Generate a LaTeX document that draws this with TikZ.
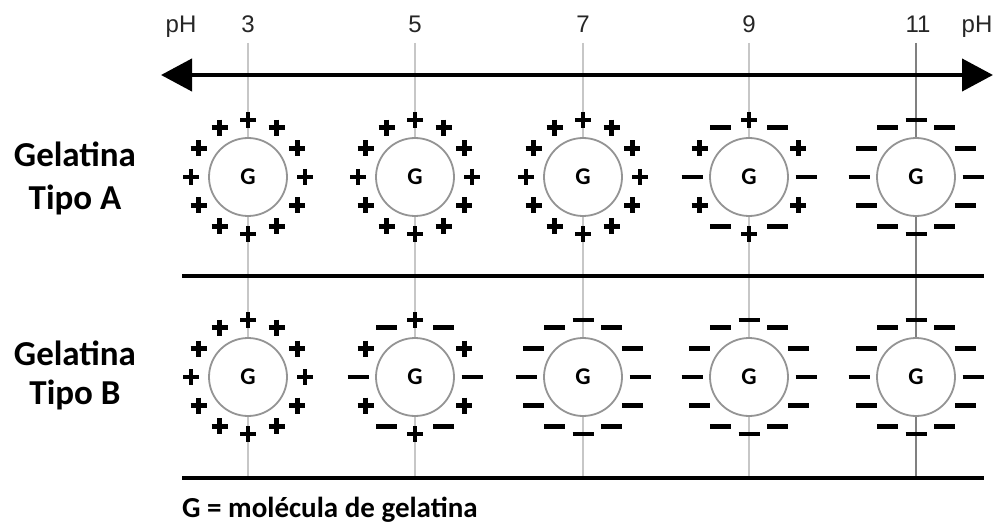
\documentclass[tikz,border=0pt]{standalone}
\usepackage{fontspec}
\setmainfont{Carlito}
\newfontfamily\axisfont{Liberation Sans}
\usetikzlibrary{arrows.meta}
\tikzset{
  mol/.style={circle, draw=black!42, line width=1.8pt, fill=white, minimum size=78pt, inner sep=0pt, font=\fontsize{24}{24}\selectfont\bfseries},
  axlab/.style={font=\axisfont\fontsize{24}{24}\selectfont, text=black!85, anchor=base, inner sep=0pt},
  rowlab/.style={font=\fontsize{35}{35}\selectfont\bfseries, anchor=base, inner sep=0pt},
  gridline/.style={draw=black!22, line width=2pt},
  gridlinedark/.style={draw=black!50, line width=2.6pt},
  chg/.style={line width=4.6pt, line cap=butt, draw=black},
  sepline/.style={line width=3.8pt, draw=black},
  pplus/.pic={\draw[chg] (-8,0)--(8,0) (0,-8)--(0,8);},
  pminus/.pic={\draw[chg] (-10.5,0)--(10.5,0);}
}
% #1 name, #2 x, #3 y, #4 type: 0 all plus, 1 all minus, 2 alternating
\newcommand\molecule[4]{%
  \node[mol] (#1) at (#2,#3) {G};
  \foreach \k in {0,...,11}{%
    \pgfmathtruncatemacro\sgn{#4==0 ? 1 : (#4==1 ? 0 : mod(\k,2))}%
    \ifnum\sgn=1
      \path (#1.center) ++(30*\k:57) pic{pplus};
    \else
      \path (#1.center) ++(30*\k:57) pic{pminus};
    \fi
  }%
}
\begin{document}
\begin{tikzpicture}[x=1pt,y=-1pt]
\useasboundingbox[fill=white] (0,0) rectangle (994,524);

% top labels
\node[axlab] (phl) at (181,33) {pH};
\node[axlab] (l3) at (248,33) {3};
\node[axlab] (l5) at (415,33) {5};
\node[axlab] (l7) at (583,33) {7};
\node[axlab] (l9) at (749,33) {9};
\node[axlab] (l11) at (918,33) {11};
\node[axlab] (phr) at (977,33) {pH};

% vertical grid lines
\foreach \x/\n in {248/a,415/b,583/c,749/d}{
  \coordinate (t\n) at (\x,43);
  \coordinate (b\n) at (\x,478);
  \draw[gridline] (t\n) -- (b\n);
}
\coordinate (te) at (916,43);
\coordinate (be) at (916,478);
\draw[gridlinedark] (te) -- (be);

% pH arrow
\coordinate (al) at (161,75);
\coordinate (ar) at (993,75);
\draw[line width=4.2pt, {Triangle[length=31pt,width=32pt]}-{Triangle[length=31pt,width=32pt]}] (al) -- (ar);

% separator lines
\coordinate (m1) at (182,276); \coordinate (m2) at (984,276);
\coordinate (n1) at (182,478); \coordinate (n2) at (984,478);
\draw[sepline] (m1) -- (m2);
\draw[sepline] (n1) -- (n2);

% row labels
\node[rowlab] (ra1) at (75,167) {Gelatina};
\node[rowlab] (ra2) at (75,210) {Tipo A};
\node[rowlab] (rb1) at (75,365) {Gelatina};
\node[rowlab] (rb2) at (75,404) {Tipo B};

% molecules, row A
\molecule{a1}{248}{177}{0}
\molecule{a2}{415}{177}{0}
\molecule{a3}{583}{177}{0}
\molecule{a4}{749}{177}{2}
\molecule{a5}{916}{177}{1}
% molecules, row B
\molecule{b1}{248}{377}{0}
\molecule{b2}{415}{377}{2}
\molecule{b3}{583}{377}{1}
\molecule{b4}{749}{377}{1}
\molecule{b5}{916}{377}{1}

% caption
\node[font=\fontsize{29}{29}\selectfont\bfseries, anchor=base west, inner sep=0pt] (cap) at (182,517) {G = molécula de gelatina};
\end{tikzpicture}
\end{document}
